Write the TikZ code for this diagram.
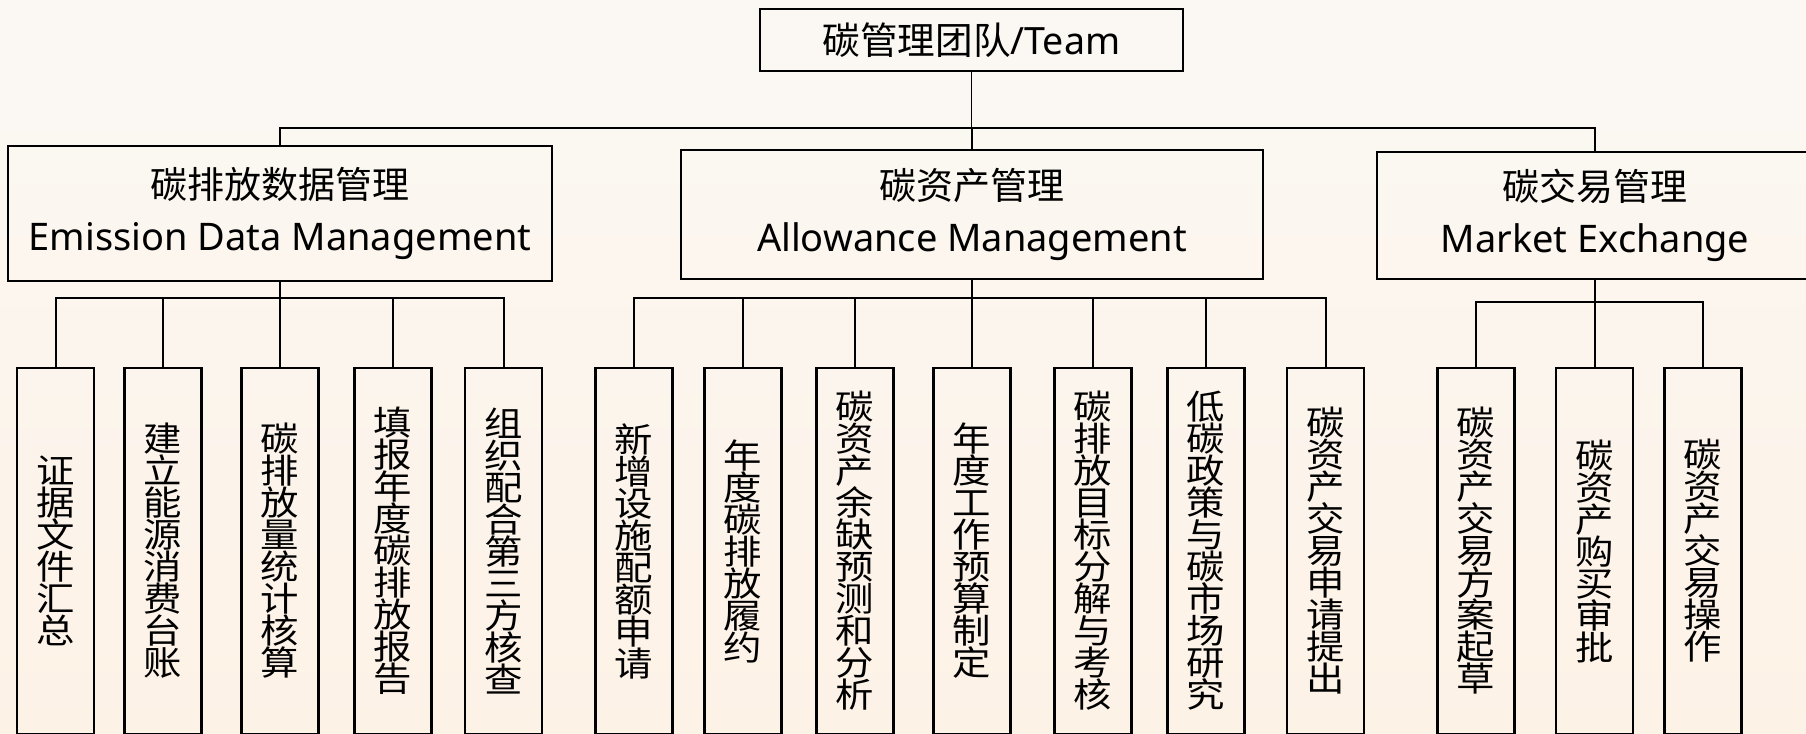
\documentclass[tikz,border=0pt]{standalone}
\usepackage{fontspec}
\setmainfont{Noto Sans}
\newfontfamily\cjk{Noto Sans CJK SC}
\newfontfamily\cjkwide[FakeStretch=1.13]{Noto Sans CJK SC}
\definecolor{bgtop}{HTML}{FBF8F4}
\definecolor{bgbot}{HTML}{FDF2E6}
\tikzset{
  topbox/.style={draw=black, line width=0.6pt, minimum width=211.5pt, minimum height=31pt, inner sep=0pt, font=\fontsize{18.8pt}{22pt}\selectfont},
  midbox/.style={draw=black, line width=0.6pt, inner sep=0pt, align=center, font=\fontsize{19pt}{26pt}\selectfont},
  leaf/.style={draw=black, line width=1.1pt, minimum width=38.5pt, minimum height=183pt, inner sep=0pt, align=center, font=\cjkwide\fontsize{17pt}{16pt}\selectfont},
  link/.style={line width=1pt},
  toplink/.style={line width=0.8pt},
}
\newcommand\zh[1]{{\cjk\fontsize{18.5pt}{26pt}\selectfont #1}}
\begin{document}
\begin{tikzpicture}[x=0.5pt,y=-0.5pt]
\useasboundingbox (0,0) rectangle (1806,734);
\clip (0,0) rectangle (1806,734);
\shade[top color=bgtop, bottom color=bgbot] (0,0) rectangle (1806,734);

\node[topbox] (top) at (971.5,40) {{\cjk 碳管理团队}/Team};
\node[midbox, minimum width=272pt, minimum height=67.5pt] (m1) at (280,213.5) {\zh{碳排放数据管理}\\Emission Data Management};
\node[midbox, minimum width=291pt, minimum height=64.5pt] (m2) at (972,214.5) {\zh{碳资产管理}\\Allowance Management};
\node[midbox, minimum width=218pt, minimum height=63.5pt] (m3) at (1595,215.5) {\zh{碳交易管理}\\Market Exchange};

\node[leaf] (l11) at (55.5,551) {证\\据\\文\\件\\汇\\总};
\node[leaf] (l12) at (163,551) {建\\立\\能\\源\\消\\费\\台\\账};
\node[leaf] (l13) at (280,551) {碳\\排\\放\\量\\统\\计\\核\\算};
\node[leaf] (l14) at (393,551) {填\\报\\年\\度\\碳\\排\\放\\报\\告};
\node[leaf] (l15) at (503.5,551) {组\\织\\配\\合\\第\\三\\方\\核\\查};

\node[leaf] (l21) at (634,551) {新\\增\\设\\施\\配\\额\\申\\请};
\node[leaf] (l22) at (743,551) {年\\度\\碳\\排\\放\\履\\约};
\node[leaf] (l23) at (855,551) {碳\\资\\产\\余\\缺\\预\\测\\和\\分\\析};
\node[leaf] (l24) at (972,551) {年\\度\\工\\作\\预\\算\\制\\定};
\node[leaf] (l25) at (1093,551) {碳\\排\\放\\目\\标\\分\\解\\与\\考\\核};
\node[leaf] (l26) at (1206,551) {低\\碳\\政\\策\\与\\碳\\市\\场\\研\\究};
\node[leaf] (l27) at (1325.5,551) {碳\\资\\产\\交\\易\\申\\请\\提\\出};

\node[leaf] (l31) at (1476,551) {碳\\资\\产\\交\\易\\方\\案\\起\\草};
\node[leaf] (l32) at (1594.5,551) {碳\\资\\产\\购\\买\\审\\批};
\node[leaf] (l33) at (1703,551) {碳\\资\\产\\交\\易\\操\\作};

\coordinate (busA) at (0,128);
\coordinate (busB) at (0,298);
\coordinate (busC) at (0,302);

\foreach \m in {m1,m2,m3}
  \draw[toplink] (top.south) -- (top.south |- busA) -| (\m.north);
\foreach \l in {l11,l12,l13,l14,l15}
  \draw[link] (m1.south) -- (m1.south |- busB) -| (\l.north);
\foreach \l in {l21,l22,l23,l24,l25,l26,l27}
  \draw[link] (m2.south) -- (m2.south |- busB) -| (\l.north);
\foreach \l in {l31,l32,l33}
  \draw[link] (m3.south) -- (m3.south |- busC) -| (\l.north);
\end{tikzpicture}
\end{document}
